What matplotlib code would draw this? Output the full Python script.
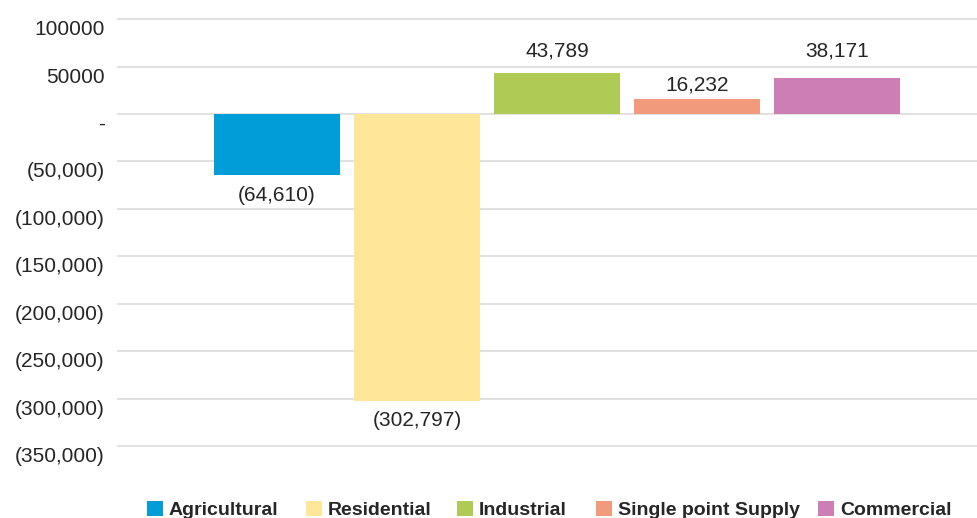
import matplotlib.pyplot as plt
from matplotlib.patches import Patch
from matplotlib.transforms import ScaledTranslation

# ── Data ─────────────────────────────────────────────────────
categories = ["Agricultural", "Residential", "Industrial", "Single point Supply", "Commercial"]
values = [-64610, -302797, 43789, 16232, 38171]
value_labels = ["(64,610)", "(302,797)", "43,789", "16,232", "38,171"]
colours = ["#009dd9", "#ffe699", "#b0cb55", "#f19b7c", "#cd7eb4"]

yticks = [100000, 50000, 0, -50000, -100000, -150000, -200000, -250000, -300000, -350000]
ytick_labels = ["100000", "50000", "-", "(50,000)", "(100,000)", "(150,000)",
                "(200,000)", "(250,000)", "(300,000)", "(350,000)"]

# distance (px) between bar end and the centre of its value label
label_gap_px = [20, 19, 22, 14, 27]
# left edge (px) of each legend entry
legend_x_px = [147, 306, 457, 596, 818]

text_col = "#262626"
plt.rcParams["font.family"] = ["Liberation Sans", "DejaVu Sans"]

fig = plt.figure(figsize=(9.77, 5.18), dpi=100)
ax = fig.add_axes([0.1198, 0.1353, 0.8802, 0.8313])

x = list(range(len(categories)))
bars = ax.bar(x, values, width=0.9, color=colours, zorder=2)

ax.set_xlim(-1.143, 5.0)
ax.set_ylim(-352000, 102000)

# grid + axis styling
ax.set_yticks(yticks)
ax.set_yticklabels(ytick_labels, fontsize=15, color=text_col)
ax.set_xticks([])
ax.grid(axis="y", color="#d9d9d9", linewidth=1.1, zorder=0)
ax.tick_params(axis="y", length=0, pad=9)
for side in ["top", "right", "bottom", "left"]:
    ax.spines[side].set_visible(False)

# tick labels sit a little below their gridline
shift = ScaledTranslation(0, -8.5 / 100, fig.dpi_scale_trans)
for tick in ax.yaxis.get_major_ticks():
    tick.label1.set_transform(tick.label1.get_transform() + shift)

# value labels above / below each bar
for bar, v, lbl, gap in zip(bars, values, value_labels, label_gap_px):
    sign = 1 if v >= 0 else -1
    ax.annotate(lbl, (bar.get_x() + bar.get_width() / 2, v),
                xytext=(0, sign * gap * 0.72), textcoords="offset points",
                ha="center", va="center", fontsize=15, color=text_col)

# legend entries along the bottom edge (runs off the bottom slightly)
for name, c, lx in zip(categories, colours, legend_x_px):
    fig.legend([Patch(facecolor=c, edgecolor="none")], [name],
               loc="upper left", bbox_to_anchor=(lx / 977, 1 - 501 / 518),
               frameon=False, prop={"weight": "bold", "size": 14},
               labelcolor=text_col, handlelength=0.82, handleheight=0.82,
               handletextpad=0.3, borderpad=0, borderaxespad=0)

plt.savefig("out.png", dpi=100)
